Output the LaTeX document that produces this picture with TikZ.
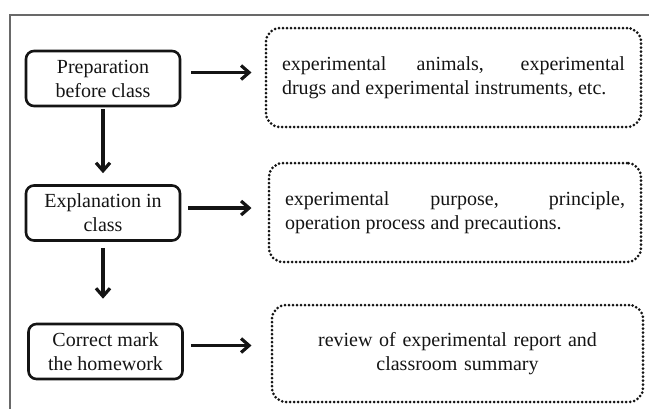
\documentclass[tikz,border=0pt]{standalone}
\usepackage{fontspec}
\setmainfont{Liberation Serif}
\usepackage{xcolor}
\definecolor{ink}{RGB}{20,20,20}
\definecolor{frame-gray}{RGB}{105,105,105}
\usetikzlibrary{arrows.meta,positioning}

\begin{document}
\begin{tikzpicture}[
    x=0.5pt, y=-0.5pt,
    every node/.style={inner sep=0pt, font=\fontsize{10}{12}\selectfont, text=ink},
    stepbox/.style={draw=ink, line width=1.3pt, rounded corners=4pt,
        minimum width=77pt, minimum height=27.5pt, align=center},
    notebox/.style={draw=ink, line width=1.5pt, dash pattern=on 0pt off 2pt,
        line cap=round, rounded corners=7pt, minimum height=49.5pt, inner xsep=8pt},
    flow/.style={draw=ink, line width=1.6pt, -{Straight Barb[length=4pt,width=7pt]}}
]
\useasboundingbox (0,0) rectangle (649,408);

% Frame (top and left edges only)
\draw[frame-gray, line width=0.7pt] (10,410) -- (10,15) -- (652,15);

% Teaching steps
\node[stepbox] (prep) at (103,78.5) {Preparation\\before class};
\node[stepbox] (expl) at (103,213) {Explanation in\\class};
\node[stepbox] (mark) at (105.5,351.5) {Correct mark\\the homework};

% Contents of each step
\node[notebox, text width=171.5pt, align=justify] (items) at (453.5,77.5)
    {experimental animals, experimental\linebreak drugs and experimental instruments, etc.};
\node[notebox, text width=170pt, align=justify] (topics) at (455,212.5)
    {experimental purpose, principle,\linebreak operation process and precautions.};
\node[notebox, text width=169.5pt, minimum height=48.5pt, align=center] (review) at (457.5,353.5)
    {review of experimental report and\\classroom summary};

% Step to content
\draw[flow, shorten <=5pt, shorten >=6.5pt] ([yshift=3pt]prep.east) -- ([yshift=3pt]prep.east -| items.west);
\draw[flow, shorten <=3.5pt, shorten >=8pt] ([yshift=2.5pt]expl.east) -- ([yshift=2.5pt]expl.east -| topics.west);
\draw[flow, shorten <=3.5pt, shorten >=9.5pt] ([yshift=3pt]mark.east) -- ([yshift=3pt]mark.east -| review.west);

% Step to step
\draw[flow, shorten <=1pt, shorten >=5.5pt] (prep.south) -- (expl.north);
\draw[flow, shorten <=3pt, shorten >=12pt] (expl.south) -- (expl.south |- mark.north);

\end{tikzpicture}
\end{document}
